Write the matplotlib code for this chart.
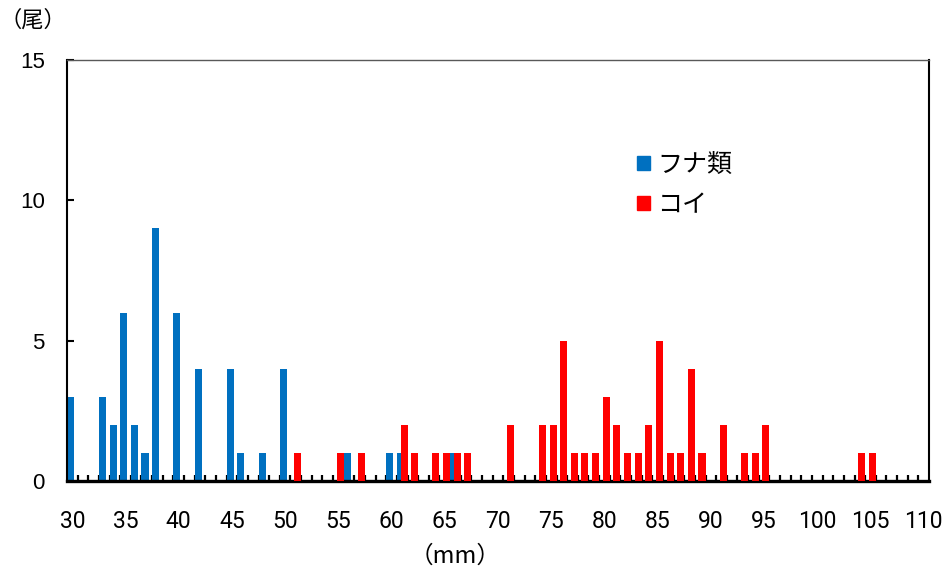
import matplotlib.pyplot as plt
import numpy as np
from matplotlib.patches import Patch
from matplotlib.ticker import FixedLocator

plt.rcParams["font.family"] = ["Noto Sans CJK JP", "DejaVu Sans"]

BLUE = "#0070C0"
RED = "#FF0000"

# fish length (mm) and number of fish
funa_mm = [30, 33, 34, 35, 36, 37, 38, 40, 42, 45, 46, 48, 50, 56, 60, 61, 66]
funa_n = [3, 3, 2, 6, 2, 1, 9, 6, 4, 4, 1, 1, 4, 1, 1, 1, 1]

koi_mm = [51, 55, 57, 61, 62, 64, 65, 66, 67, 71, 74, 75, 76, 77, 78, 79, 80,
          81, 82, 83, 84, 85, 86, 87, 88, 89, 91, 93, 94, 95, 104, 105]
koi_n = [1, 1, 1, 2, 1, 1, 1, 1, 1, 2, 2, 2, 5, 1, 1, 1, 3,
         2, 1, 1, 2, 5, 1, 1, 4, 1, 2, 1, 1, 2, 1, 1]

x_labels = np.arange(30, 111, 5)
y_labels = [0, 5, 10, 15]

fig = plt.figure(figsize=(9.46, 5.71), dpi=100)
ax = fig.add_axes([67 / 946, 1 - 481 / 571, 862 / 946, 421 / 571])

# clustered columns, second series overlaps the first
bar_w = 0.66
ax.bar(np.array(funa_mm) - 0.5, funa_n, width=bar_w, align="edge",
       color=BLUE, zorder=2, label="フナ類")
ax.bar(np.array(koi_mm) + 0.5 - bar_w, koi_n, width=bar_w, align="edge",
       color=RED, zorder=3, label="コイ")

ax.set_xlim(29.5, 110.5)
ax.set_ylim(0, 15)

ax.set_xticks(x_labels)
ax.xaxis.set_minor_locator(FixedLocator(np.arange(30.5, 110.5, 1)))
ax.tick_params(axis="x", which="major", length=0, pad=21)
ax.tick_params(axis="x", which="minor", direction="in", length=4.5, width=1.6)
ax.set_yticks(y_labels)
ax.tick_params(axis="y", direction="in", length=5, width=1.5, pad=16)

for lbl in ax.get_xticklabels():
    lbl.set_family(["Roboto", "DejaVu Sans"])
    lbl.set_fontsize(16.5)
for lbl in ax.get_yticklabels():
    lbl.set_family(["Liberation Sans", "DejaVu Sans"])
    lbl.set_fontsize(16)

ax.spines["bottom"].set_linewidth(2.4)
ax.spines["left"].set_linewidth(1.5)
ax.spines["right"].set_linewidth(1.5)
ax.spines["top"].set_linewidth(1.0)
ax.spines["top"].set_color("#595959")

handles = [Patch(color=BLUE), Patch(color=RED)]
ax.legend(handles, ["フナ類", "コイ"], loc="upper left",
          bbox_to_anchor=((627 - 67) / 862, (481 - 142) / 421),
          frameon=False, fontsize=18, handlelength=0.5, handleheight=0.5,
          handletextpad=0.3, labelspacing=0.55, borderaxespad=0)

fig.text(33 / 946, 1 - 20 / 571, "（尾）", fontsize=16, ha="center", va="center")
fig.text(455 / 946, 1 - 556 / 571, "（mm）", fontsize=17, ha="center", va="center")

fig.savefig("out.png", dpi=100)
